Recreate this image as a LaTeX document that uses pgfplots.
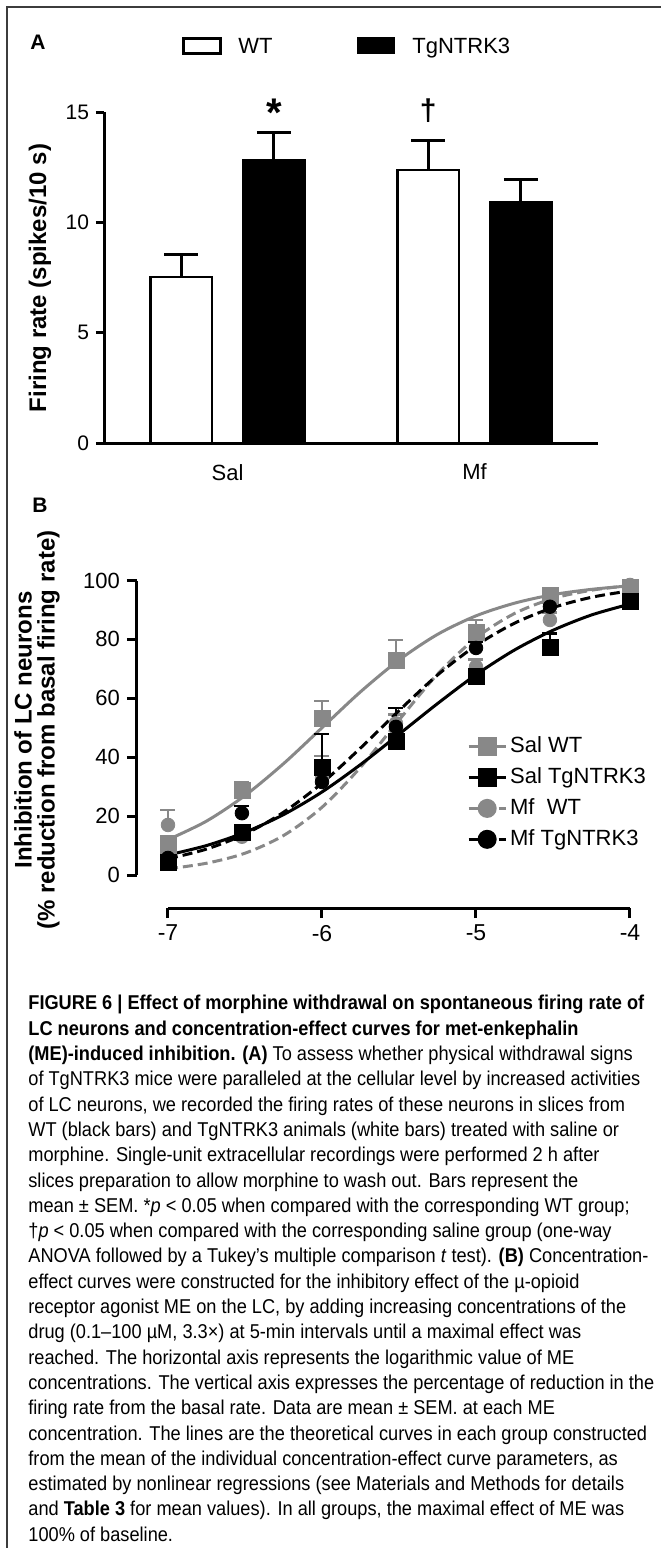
\documentclass[border=0pt]{standalone}
\usepackage{fontspec}
\setmainfont{Liberation Sans}
\newfontfamily\capfont{Liberation Sans}[FakeStretch=0.91]
\usepackage{pgfplots}
\pgfplotsset{compat=1.18}
\definecolor{mgray}{RGB}{136,136,136}
\definecolor{framegray}{RGB}{60,60,60}

\begin{document}
\begin{tikzpicture}
% ---------- panel A: firing rate bars
\begin{axis}[
  at={(52pt,-221.5pt)}, anchor=south west,
  scale only axis, width=247pt, height=165.5pt,
  xmin=0, xmax=4, ymin=0, ymax=15, clip=false,
  axis lines=left, axis line style={-, line width=1.5pt},
  tick align=outside, major tick length=4pt,
  ytick={0,5,10,15}, yticklabels={0,5,10,15},
  xtick={1,3}, xticklabels={Sal,Mf},
  x tick style={draw=none}, y tick style={line width=1.5pt, black},
  yticklabel style={font=\fontsize{10.5}{12}\selectfont},
  xticklabel style={font=\fontsize{11}{13}\selectfont, yshift=-3pt},
]
\addplot[ybar, bar width=0.5, bar shift=0pt, fill=white, draw=black, line width=1.25pt,
  error bars/.cd, y dir=plus, y explicit,
  error bar style={line width=1.5pt},
  error mark options={rotate=90, mark size=8.5pt, line width=1.5pt}]
  coordinates {(0.625,7.52) +- (0,1.0) (2.625,12.37) +- (0,1.36)};
\addplot[ybar, bar width=0.5, bar shift=0pt, fill=black, draw=black, line width=1.25pt,
  error bars/.cd, y dir=plus, y explicit,
  error bar style={line width=1.5pt},
  error mark options={rotate=90, mark size=8.5pt, line width=1.5pt}]
  coordinates {(1.375,12.82) +- (0,1.27) (3.375,10.92) +- (0,1.04)};
\node[anchor=base, inner sep=0pt, font=\bfseries\fontsize{20}{20}\selectfont] at (axis cs:1.375,14.36) {*};
\node[anchor=base, inner sep=0pt, font=\bfseries\fontsize{15}{15}\selectfont] at (axis cs:2.625,14.63) {†};
\end{axis}

% ---------- panel B: concentration-effect curves
\begin{axis}[
  at={(84pt,-437.5pt)}, anchor=south west,
  scale only axis, width=231pt, height=147.25pt,
  xmin=-7, xmax=-4, ymin=0, ymax=100, clip=false,
  axis lines=left, axis line style={-, line width=1.5pt},
  axis x line shift=16.5pt, axis y line shift=15.5pt,
  tick align=outside, major tick length=5pt,
  xtick={-7,-6,-5,-4}, xticklabels={-7,-6,-5,-4},
  ytick={0,20,40,60,80,100}, yticklabels={0,20,40,60,80,100},
  tick style={line width=1.5pt, black},
  yticklabel style={font=\fontsize{11}{13}\selectfont},
  xticklabel style={font=\fontsize{11.5}{13}\selectfont},
  legend style={at={(axis cs:-5.06,48)}, anchor=north west, draw=none, fill=none,
    inner sep=0pt, row sep=3pt, nodes={inner sep=1.5pt},
    font=\fontsize{11}{13}\selectfont},
  legend cell align=left,
  legend image code/.code={\draw[mark repeat=2,mark phase=2,#1]
    plot coordinates {(0pt,0pt) (9.25pt,0pt) (18.5pt,0pt)};},
]
\addlegendimage{mgray, line width=1.5pt, mark=square*, mark size=4pt}
\addlegendentry{Sal WT}
\addlegendimage{black, line width=1.5pt, mark=square*, mark size=4pt}
\addlegendentry{Sal TgNTRK3}
\addlegendimage{mgray, line width=1.5pt, dash pattern=on 5pt off 2.5pt, mark=*, mark size=4pt, mark options={solid}}
\addlegendentry{Mf~~WT}
\addlegendimage{black, line width=1.5pt, dash pattern=on 5pt off 2.5pt, mark=*, mark size=4pt, mark options={solid}}
\addlegendentry{Mf TgNTRK3}

% Sal WT
\addplot[forget plot, mgray, line width=1.5pt, smooth] coordinates {
  (-7,12.0) (-6.75,18.3) (-6.5,27.0) (-6.25,37.8) (-6,50.0) (-5.75,62.2) (-5.5,73.0)
  (-5.25,81.7) (-5,88.0) (-4.75,92.3) (-4.5,95.2) (-4.25,97.0) (-4,98.2) };
\addplot[forget plot, mgray, only marks, mark=square*, mark size=4pt,
  error bars/.cd, y dir=plus, y explicit, error bar style={line width=1.2pt},
  error mark options={rotate=90, mark size=3.75pt, line width=1.2pt}]
  coordinates { (-7,10.2) +- (0,3.0) (-6.52,28.9) +- (0,2.7) (-6,53.3) +- (0,5.8)
  (-5.52,73.0) +- (0,6.8) (-5,82.5) +- (0,4.1) (-4.52,95.1) +- (0,1.0) (-4,97.5) +- (0,0.6) };
% Mf WT
\addplot[forget plot, mgray, line width=1.5pt, smooth, dash pattern=on 5pt off 2.5pt] coordinates {
  (-7,2.1) (-6.75,4.0) (-6.5,7.4) (-6.25,13.4) (-6,23.0) (-5.75,36.6) (-5.5,52.6)
  (-5.25,68.2) (-5,80.5) (-4.75,88.8) (-4.5,93.9) (-4.25,96.7) (-4,98.3) };
\addplot[forget plot, mgray, only marks, mark=*, mark size=3.4pt,
  error bars/.cd, y dir=plus, y explicit, error bar style={line width=1.2pt},
  error mark options={rotate=90, mark size=3.75pt, line width=1.2pt}]
  coordinates { (-7,17.0) +- (0,5.1) (-6.52,13.0) +- (0,2.0) (-6,33.0) +- (0,7.5)
  (-5.52,51.5) +- (0,3.0) (-5,70.7) +- (0,2.5) (-4.52,86.6) +- (0,2.5) (-4,98.5) +- (0,0.5) };
% Sal TgNTRK3
\addplot[forget plot, black, line width=1.5pt, smooth] coordinates {
  (-7,6.8) (-6.75,10.0) (-6.5,14.5) (-6.25,20.5) (-6,28.2) (-5.75,37.5) (-5.5,47.8)
  (-5.25,58.2) (-5,68.0) (-4.75,76.4) (-4.5,83.1) (-4.25,88.3) (-4,92.0) };
\addplot[forget plot, black, only marks, mark=square*, mark size=4pt,
  error bars/.cd, y dir=plus, y explicit, error bar style={line width=1.2pt},
  error mark options={rotate=90, mark size=3.75pt, line width=1.2pt}]
  coordinates { (-7,4.4) +- (0,1.2) (-6.52,14.3) +- (0,2.0) (-6,36.7) +- (0,11.2)
  (-5.52,45.2) +- (0,2.5) (-5,67.3) +- (0,2.0) (-4.52,77.4) +- (0,4.6) (-4,93.0) +- (0,1.0) };
% Mf TgNTRK3
\addplot[forget plot, black, line width=1.5pt, smooth, dash pattern=on 5pt off 2.5pt] coordinates {
  (-7,5.5) (-6.75,8.8) (-6.5,13.9) (-6.25,21.3) (-6,31.2) (-5.75,43.1) (-5.5,55.8)
  (-5.25,67.9) (-5,77.9) (-4.75,85.5) (-4.5,90.8) (-4.25,94.3) (-4,96.5) };
\addplot[forget plot, black, only marks, mark=*, mark size=3.4pt,
  error bars/.cd, y dir=plus, y explicit, error bar style={line width=1.2pt},
  error mark options={rotate=90, mark size=3.75pt, line width=1.2pt}]
  coordinates { (-7,5.8) +- (0,1.0) (-6.52,21.0) +- (0,2.5) (-6,31.6) +- (0,2.5)
  (-5.52,50.3) +- (0,6.4) (-5,77.1) +- (0,2.0) (-4.52,91.1) +- (0,2.0) (-4,92.8) +- (0,1.0) };
\end{axis}

% ---------- labels, frame and caption (units: pixels of the reference)
\begin{scope}[x=0.5pt, y=-0.5pt]
\draw[framegray, line width=0.6pt] (7,1548) -- (7,7) -- (661,7);
\node[font=\bfseries\fontsize{10.5}{12}\selectfont] at (38,42) {A};
\draw[line width=1.5pt] (183,38) rectangle (220,53);
\fill (357,37) rectangle (395,54);
\node[anchor=base west, inner sep=0pt, font=\fontsize{11}{13}\selectfont] at (238,53.5) {WT};
\node[anchor=base west, inner sep=0pt, font=\fontsize{11}{13}\selectfont] at (412,53.5) {TgNTRK3};
\node[rotate=90, font=\bfseries\fontsize{12}{14}\selectfont] at (40,278) {Firing rate (spikes/10 s)};
\node[font=\bfseries\fontsize{10.5}{12}\selectfont] at (40,505) {B};
\node[rotate=90, align=center, font=\bfseries\fontsize{12}{11.5}\selectfont] at (37,730)
  {Inhibition of LC neurons\\(\% reduction from basal firing rate)};
\node[anchor=north west, inner sep=0pt, align=left,
  font=\capfont\fontsize{10}{12.65}\selectfont] at (28,995) {%
\textbf{FIGURE 6 | Effect of morphine withdrawal on spontaneous firing rate of}\\
\textbf{LC neurons and concentration-effect curves for met-enkephalin}\\
\textbf{(ME)-induced inhibition. (A)} To assess whether physical withdrawal signs\\
of TgNTRK3 mice were paralleled at the cellular level by increased activities\\
of LC neurons, we recorded the firing rates of these neurons in slices from\\
WT (black bars) and TgNTRK3 animals (white bars) treated with saline or\\
morphine. Single-unit extracellular recordings were performed 2 h after\\
slices preparation to allow morphine to wash out. Bars represent the\\
mean ± SEM. *\textit{p} < 0.05 when compared with the corresponding WT group;\\
†\textit{p} < 0.05 when compared with the corresponding saline group (one-way\\
ANOVA followed by a Tukey’s multiple comparison \textit{t} test). \textbf{(B)} Concentration-\\
effect curves were constructed for the inhibitory effect of the µ-opioid\\
receptor agonist ME on the LC, by adding increasing concentrations of the\\
drug (0.1–100 µM, 3.3×) at 5-min intervals until a maximal effect was\\
reached. The horizontal axis represents the logarithmic value of ME\\
concentrations. The vertical axis expresses the percentage of reduction in the\\
firing rate from the basal rate. Data are mean ± SEM. at each ME\\
concentration. The lines are the theoretical curves in each group constructed\\
from the mean of the individual concentration-effect curve parameters, as\\
estimated by nonlinear regressions (see Materials and Methods for details\\
and \textbf{Table 3} for mean values). In all groups, the maximal effect of ME was\\
100\% of baseline.};
\pgfresetboundingbox
\path[use as bounding box] (0,0) rectangle (661,1548);
\end{scope}
\end{tikzpicture}
\end{document}
